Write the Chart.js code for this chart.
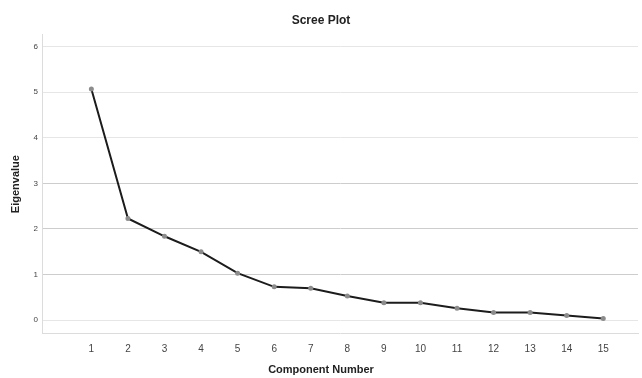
<!DOCTYPE html>
<html>
<head>
<meta charset="utf-8">
<script src="https://cdn.jsdelivr.net/npm/chart.js@4.4.1/dist/chart.umd.min.js"></script>
<style>
  html, body { margin: 0; padding: 0; background: #fff; }
  #wrap { width: 642px; height: 378px; }
</style>
</head>
<body>
<div id="wrap"><canvas id="screeChart" width="642" height="378"></canvas></div>
<script>
// component number on x, eigenvalue on y
var components = [1, 2, 3, 4, 5, 6, 7, 8, 9, 10, 11, 12, 13, 14, 15];
var eigenvalues = [5.07, 2.23, 1.84, 1.50, 1.03, 0.73, 0.70, 0.53, 0.38, 0.38, 0.26, 0.17, 0.17, 0.10, 0.035];
var yTicks = [0, 1, 2, 3, 4, 5, 6];

var points = [];
for (var i = 0; i < components.length; i++) {
	points.push({ x: components[i], y: eigenvalues[i] });
}

var ctx = document.getElementById("screeChart").getContext("2d");
var chart = new Chart(ctx, {
	type: 'line',
	data: {
		datasets: [{
			data: points,
			borderColor: '#1c1c1c',
			borderWidth: 2,
			pointRadius: 2.5,
			pointBackgroundColor: '#8c8c8c',
			pointBorderWidth: 0,
			tension: 0
		}]
	},
	options: {
		responsive: false,
		animation: false,
		layout: { padding: 0 },
		plugins: {
			legend: { display: false },
			tooltip: { enabled: false },
			title: {
				display: true,
				text: 'Scree Plot',
				color: '#222',
				font: { family: 'Liberation Sans', size: 12, weight: 'bold' },
				padding: { top: 13, bottom: 7 }
			},
			subtitle: {
				display: true,
				position: 'bottom',
				text: 'Component Number',
				color: '#222',
				font: { family: 'Liberation Sans', size: 11, weight: 'bold' },
				padding: { top: 6, bottom: 1 }
			}
		},
		scales: {
			x: {
				type: 'linear',
				min: -0.35,
				max: 15.95,
				afterBuildTicks: function (scale) {
					scale.ticks = components.map(function (c) { return { value: c }; });
				},
				afterFit: function (scale) { scale.height = 24; },
				grid: { display: false, drawTicks: false },
				border: { display: true, color: '#dcdcdc', width: 1 },
				ticks: {
					padding: 9,
					color: '#444',
					maxRotation: 0,
					font: { family: 'Liberation Sans', size: 10 }
				}
			},
			y: {
				min: -0.3,
				max: 6.27,
				afterBuildTicks: function (scale) {
					scale.ticks = yTicks.map(function (v) { return { value: v }; });
				},
				afterFit: function (scale) { scale.width = 42; },
				grid: {
					drawTicks: false,
					color: function (c) {
						var v = c.tick ? c.tick.value : 0;
						return (v >= 1 && v <= 3) ? '#cdcdcd' : '#e6e6e6';
					},
					lineWidth: 1
				},
				border: { display: true, color: '#dcdcdc', width: 1 },
				ticks: {
					padding: 4,
					color: '#444',
					font: { family: 'Liberation Sans', size: 8 }
				},
				title: {
					display: true,
					text: 'Eigenvalue',
					color: '#222',
					font: { family: 'Liberation Sans', size: 11, weight: 'bold' },
					padding: { top: 9, bottom: 0 }
				}
			}
		}
	}
});
</script>
</body>
</html>
